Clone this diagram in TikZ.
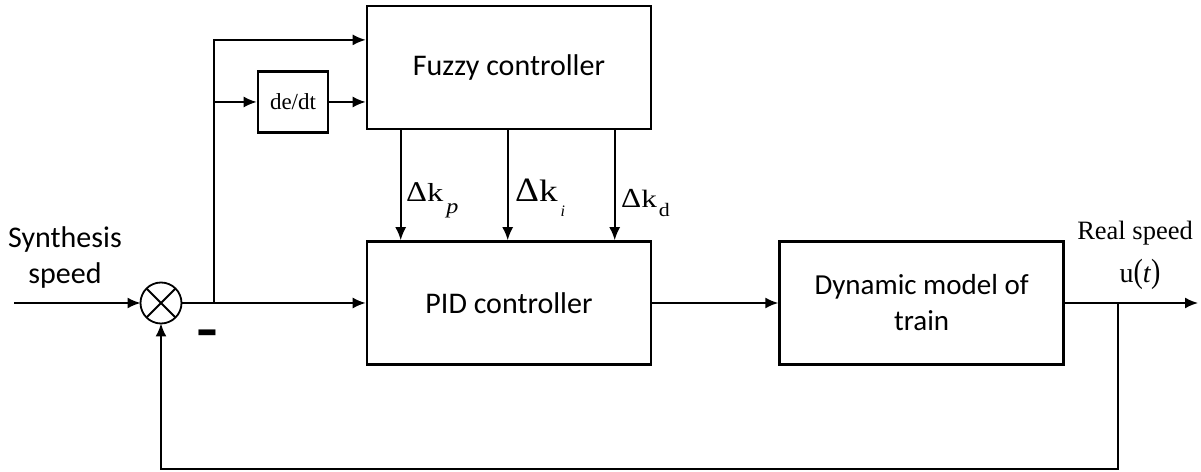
\documentclass[tikz,border=0pt]{standalone}
\usepackage{fontspec}
\usepackage{graphicx}
\setmainfont{Carlito}
\newfontfamily\timesfont{Liberation Serif}
\usepackage{tikz}
\usetikzlibrary{arrows.meta,positioning}
\tikzset{
every picture/.style={line cap=butt,line join=miter},
>={Latex[length=13pt,width=11pt]},
ctrl box/.style={
  draw=black,
  line width=2.6pt,
  minimum width=284pt,
  minimum height=123pt,
  align=center,
  inner sep=0pt,
  font=\fontsize{29}{36}\selectfont
},
deriv box/.style={draw=black, line width=2.6pt, minimum width=70pt, minimum height=61pt, inner sep=0pt, font=\timesfont\fontsize{23}{26}\selectfont},
sum node/.style={draw=black, circle, line width=1.8pt, minimum size=41pt, inner sep=0pt, outer sep=0pt},
sig flow/.style={draw=black, ->, line width=1.8pt},
sig line/.style={draw=black, line width=1.8pt},
sig label/.style={inner sep=0pt, align=center, font=\fontsize{30}{36}\selectfont},
gain label/.style={anchor=base west, inner sep=0pt, font=\timesfont}
}
\begin{document}
\begin{tikzpicture}[x=1pt,y=1pt]
\useasboundingbox (0,0) rectangle (1201,471);
% blocks
\node[ctrl box,font=\fontsize{30}{36}\selectfont] (pid) at (509,168) {PID controller};
\node[ctrl box,font=\fontsize{30}{36}\selectfont,above=110pt of pid] (fuzzy) {Fuzzy controller};
\node[ctrl box,right=126pt of pid] (dyn) {Dynamic model of\\train};
\node[deriv box] (deriv) at (293,369) {de/dt};
\node[sum node] (sum) at (161,168) {};
\draw[sig line] (sum.north west) -- (sum.south east) (sum.north east) -- (sum.south west);
% signal points
\coordinate (in) at (14,168);
\coordinate (branch) at (214,168);
\coordinate (tap) at (1118,168);
\coordinate (out) at (1198,168);
\coordinate (fbk) at (161,2);
% texts
\node[sig label] (ref) at (65,213) {Synthesis\\speed};
\node[sig label,font=\bfseries\fontsize{30}{30}\selectfont] (minus) at (207.5,130.5) {\scalebox{1.6}[2.2]{–}};
\node[inner sep=0pt,font=\timesfont\fontsize{26.5}{30}\selectfont] (real) at (1135,238) {Real speed};
\node[inner sep=0pt,font=\timesfont\fontsize{28}{30}\selectfont] (uout) at (1140,197) {u\scalebox{1}[1.2]{(}\textit{t}\scalebox{1}[1.2]{)}};
\node[gain label,font=\timesfont\fontsize{26}{26}\selectfont] (kp) at (406,269) {\scalebox{1.25}[1.1]{Δ}\scalebox{1.25}[1]{k}\hspace{3pt}\raisebox{-12pt}{\scalebox{1.15}[1]{\fontsize{21}{24}\selectfont\itshape p}}};
\node[gain label,font=\timesfont\fontsize{31}{30}\selectfont] (ki) at (515,269) {\scalebox{1.2}[1.1]{Δ}\scalebox{1.2}[1]{k}\hspace{3pt}\raisebox{-15pt}{\fontsize{16}{16}\selectfont\itshape i}};
\node[gain label,font=\timesfont\fontsize{25}{26}\selectfont] (kd) at (621,263) {\scalebox{1.25}[1.1]{Δ}\scalebox{1.25}[1]{k}\hspace{2pt}\raisebox{-9pt}{\scalebox{1.15}[1]{\fontsize{19}{20}\selectfont d}}};
% connectors
\draw[sig flow] (in) -- (sum);
\draw[sig flow] (sum) -- (pid);
\draw[sig flow] (branch) |- ([yshift=27.5pt]fuzzy.west);
\draw[sig flow] (branch |- deriv) -- (deriv);
\draw[sig flow] (deriv) -- (deriv -| fuzzy.west);
\foreach \dx in {35,142,249}
  \draw[sig flow] ([xshift=\dx pt]fuzzy.south west) -- ([xshift=\dx pt]pid.north west);
\draw[sig flow] (pid) -- (dyn);
\draw[sig flow] (dyn) -- (out);
\draw[sig flow] (tap) |- (fbk) -- (sum);
\end{tikzpicture}
\end{document}
